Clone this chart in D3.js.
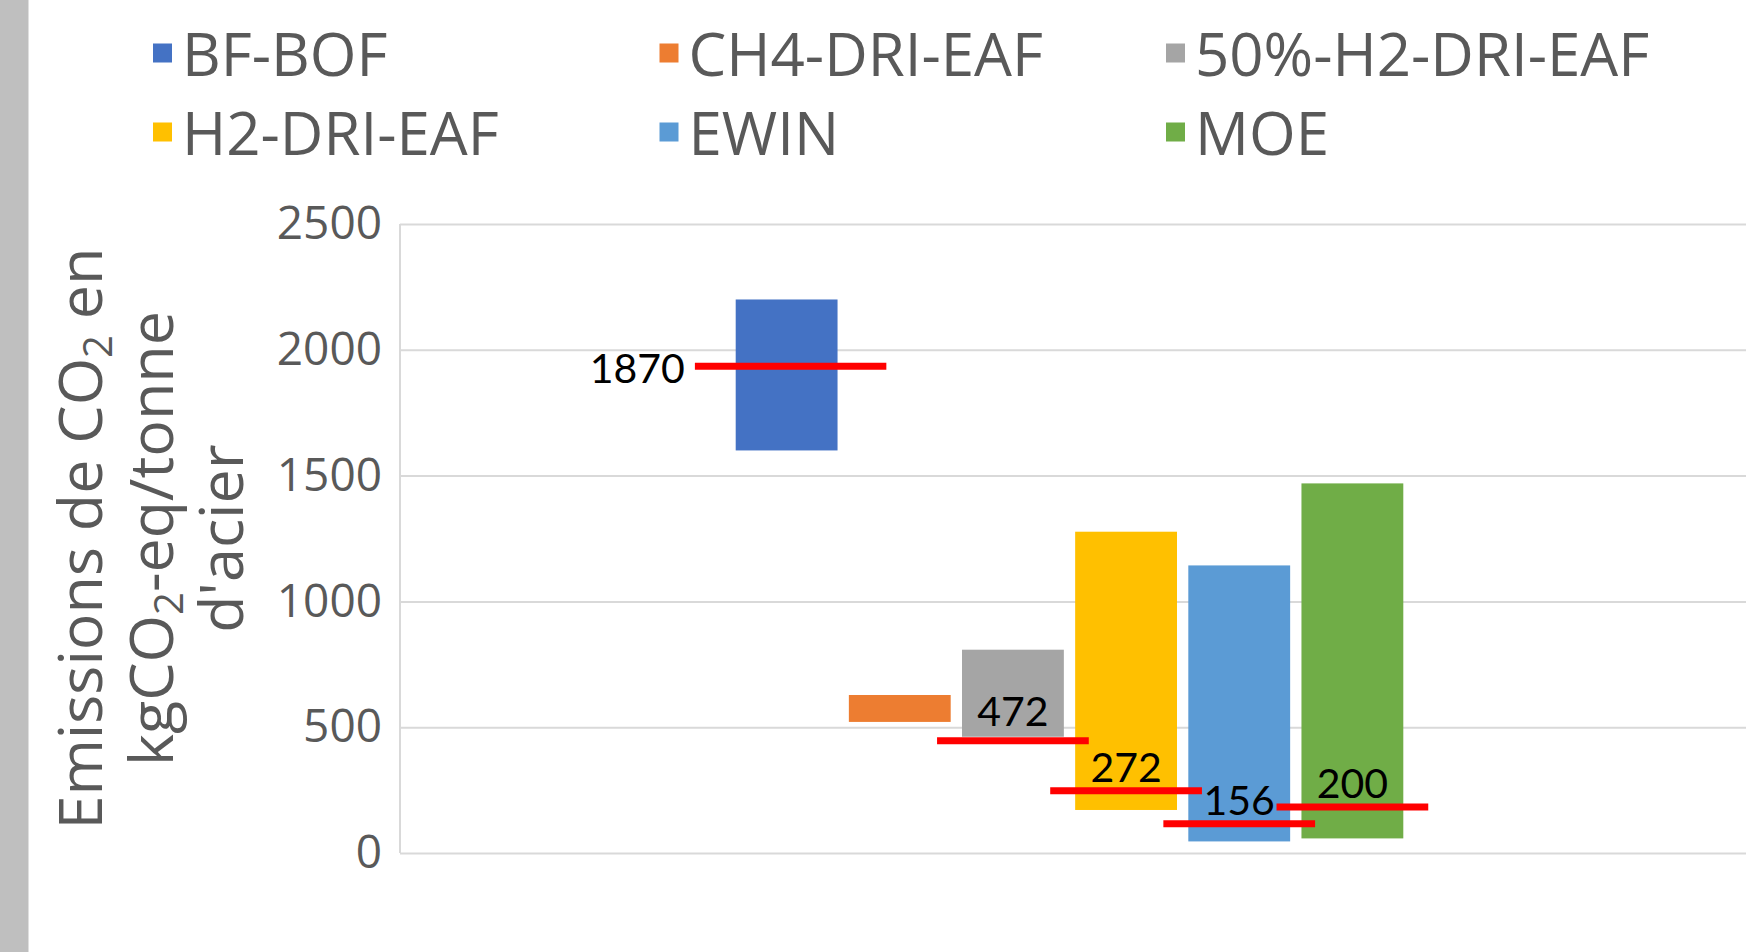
<!DOCTYPE html>
<html>
<head>
<meta charset="utf-8">
<script src="https://cdn.jsdelivr.net/npm/d3@7"></script>
<style>
  body { margin: 0; background: #fff; }
  svg { display: block; }
</style>
</head>
<body>
<div class="chart"></div>
<script>
// series (one floating bar per technology, low -> high)
const series = ["BF-BOF", "CH4-DRI-EAF", "50%-H2-DRI-EAF", "H2-DRI-EAF", "EWIN", "MOE"];
const lowValues = [1600, 521, 462, 171, 46, 58];
const highValues = [2200, 628, 808, 1277, 1143, 1469];
const colors = ["#4472C4", "#ED7D31", "#A5A5A5", "#FFC000", "#5B9BD5", "#70AD47"];

// red reference lines and their labels
const markerSeries = ["BF-BOF", "50%-H2-DRI-EAF", "H2-DRI-EAF", "EWIN", "MOE"];
const markerValues = [1935, 446, 247, 116, 183];
const markerLabels = ["1870", "472", "272", "156", "200"];

const yTicks = [0, 500, 1000, 1500, 2000, 2500];

const W = 1746, H = 952;
const margin = {top: 224, right: 0, bottom: 99, left: 400};
const textColor = "#595959";

const svg = d3.select(".chart")
    .append("svg")
    .attr("width", W)
    .attr("height", H);

svg.append("rect").attr("width", W).attr("height", H).attr("fill", "#fff");
// grey strip on the left edge
svg.append("rect").attr("x", 0).attr("y", 0).attr("width", 28.5).attr("height", H).attr("fill", "#BFBFBF");

const yScale = d3.scaleLinear()
    .domain([0, 2500])
    .range([H - margin.bottom, margin.top]);

const xScale = d3.scaleBand()
    .domain(series)
    .range([735.7, 1403.3])
    .paddingInner(0.1)
    .paddingOuter(0);

// gridlines
const grid = svg.append("g")
    .attr("transform", `translate(${margin.left},0)`)
    .call(d3.axisLeft(yScale).tickValues(yTicks).tickSize(-(W - margin.left)).tickFormat(""));
grid.select(".domain").remove();
grid.selectAll(".tick line").attr("stroke", "#D9D9D9").attr("stroke-width", 2);

// left border of plot area
svg.append("line")
    .attr("x1", margin.left).attr("x2", margin.left)
    .attr("y1", yScale(2500)).attr("y2", yScale(0))
    .attr("stroke", "#D9D9D9").attr("stroke-width", 2);

// y axis labels
const yAxis = svg.append("g")
    .attr("transform", `translate(${margin.left},0)`)
    .call(d3.axisLeft(yScale).tickValues(yTicks).tickSize(0).tickPadding(18).tickFormat(d3.format("d")));
yAxis.select(".domain").remove();
yAxis.selectAll("text")
    .attr("fill", textColor)
    .style("font-family", "'Open Sans', sans-serif")
    .style("font-size", "46px");

// bars
svg.append("g").selectAll("rect")
    .data(series)
    .enter()
    .append("rect")
    .attr("x", d => xScale(d))
    .attr("width", xScale.bandwidth())
    .attr("y", (d, i) => yScale(highValues[i]))
    .attr("height", (d, i) => yScale(lowValues[i]) - yScale(highValues[i]))
    .attr("fill", (d, i) => colors[i]);

// red markers + labels
const mk = svg.append("g").selectAll("g")
    .data(markerSeries)
    .enter()
    .append("g");

const half = i => xScale.bandwidth() * (i == 0 ? 0.94 : 0.745);
const mid = (d, i) => xScale(d) + xScale.bandwidth() / 2 + (i == 0 ? 4 : 0);

mk.append("line")
    .attr("x1", (d, i) => mid(d, i) - half(i))
    .attr("x2", (d, i) => mid(d, i) + half(i))
    .attr("y1", (d, i) => yScale(markerValues[i]))
    .attr("y2", (d, i) => yScale(markerValues[i]))
    .attr("stroke", "#FF0000")
    .attr("stroke-width", 7);

mk.append("text")
    .attr("x", (d, i) => i == 0 ? mid(d, i) - half(i) - 10 : xScale(d) + xScale.bandwidth() / 2)
    .attr("y", (d, i) => yScale(markerValues[i]) + (i == 0 ? 17 : (i == 1 ? -15 : -8.5)))
    .attr("text-anchor", (d, i) => i == 0 ? "end" : "middle")
    .attr("fill", "#000")
    .style("font-family", "Lato, sans-serif")
    .style("font-size", "41px")
    .text((d, i) => markerLabels[i]);

// legend, 3 columns x 2 rows
const leg = svg.append("g").selectAll("g")
    .data(series)
    .enter()
    .append("g")
    .attr("transform", (d, i) => `translate(${153 + (i % 3) * 506.5},${76 + Math.floor(i / 3) * 79})`);

leg.append("rect")
    .attr("x", 0).attr("y", -32.5)
    .attr("width", 19).attr("height", 19)
    .attr("fill", (d, i) => colors[i]);

leg.append("text")
    .attr("x", 29)
    .attr("fill", textColor)
    .style("font-family", "'Open Sans', sans-serif")
    .style("font-size", "60px")
    .text(d => d);

// y axis title (three lines, rotated)
const title = svg.append("g")
    .attr("transform", `translate(0,${(yScale(0) + yScale(2500)) / 2}) rotate(-90)`)
    .attr("fill", textColor)
    .style("font-family", "'Open Sans', sans-serif")
    .style("font-size", "61px")
    .attr("text-anchor", "middle");

const t1 = title.append("text").attr("x", 0).attr("y", 102);
t1.append("tspan").text("Emissions de CO");
t1.append("tspan").attr("dy", 10).style("font-size", "40px").text("2");
t1.append("tspan").attr("dy", -10).text(" en");

const t2 = title.append("text").attr("x", 0).attr("y", 173);
t2.append("tspan").text("kgCO");
t2.append("tspan").attr("dy", 10).style("font-size", "40px").text("2");
t2.append("tspan").attr("dy", -10).text("-eq/tonne");

title.append("text").attr("x", 0).attr("y", 243).text("d'acier");
</script>
</body>
</html>
